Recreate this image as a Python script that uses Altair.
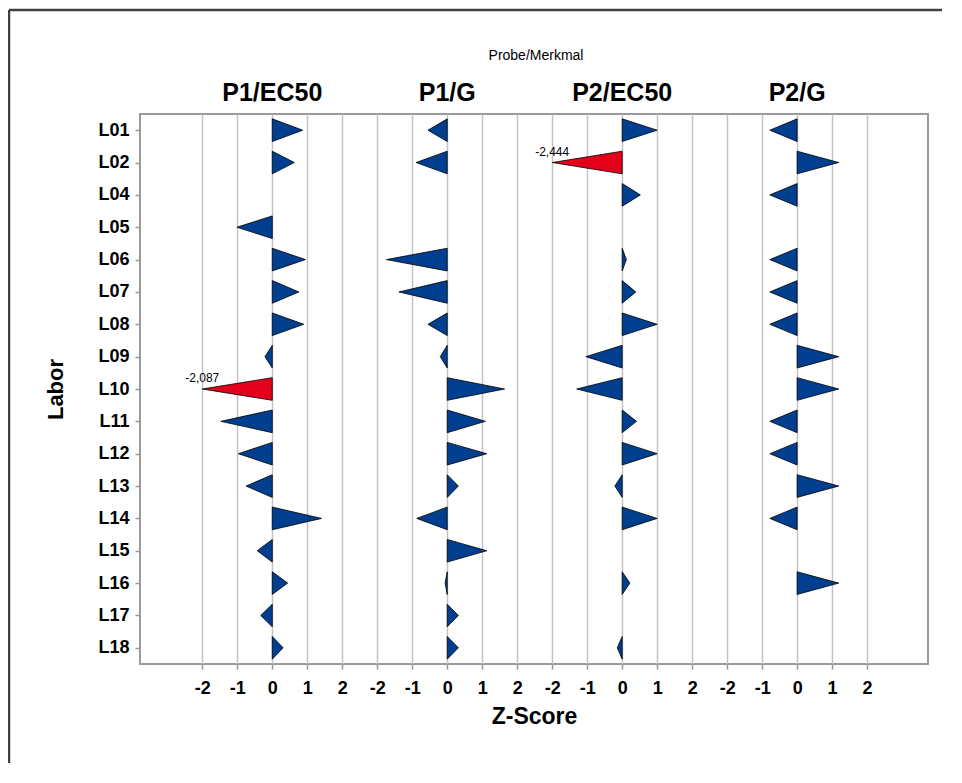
import altair as alt
import pandas as pd

# ---- data ----
labs = ["L01", "L02", "L04", "L05", "L06", "L07", "L08", "L09", "L10",
        "L11", "L12", "L13", "L14", "L15", "L16", "L17", "L18"]
panels = ["P1/EC50", "P1/G", "P2/EC50", "P2/G"]
p1_ec50 = [0.87, 0.63, None, -1.01, 0.95, 0.76, 0.90, -0.21, -2.087,
           -1.47, -0.97, -0.75, 1.41, -0.43, 0.44, -0.33, 0.31]
p1_g = [-0.55, -0.89, None, None, -1.74, -1.38, -0.55, -0.20, 1.64,
        1.09, 1.13, 0.32, -0.87, 1.13, -0.06, 0.32, 0.32]
p2_ec50 = [1.00, -2.444, 0.52, None, 0.12, 0.39, 1.00, -1.04, -1.30,
           0.41, 1.00, -0.21, 1.00, None, 0.22, None, -0.14]
p2_g = [-0.78, 1.19, -0.78, None, -0.78, -0.78, -0.78, 1.19, 1.19,
        -0.78, -0.78, 1.19, -0.78, None, 1.19, None, None]
series = [p1_ec50, p1_g, p2_ec50, p2_g]
x_ticks = list(range(-2, 18))
super_title = ["Probe/Merkmal"]

# ---- style ----
FONT = "Liberation Sans"
BLUE = "#003f8f"
RED = "#e3001b"
W, H = 788, 550
SPAN = 5          # each panel occupies 5 z-units on the shared axis
HALF = 0.35       # half height of a triangle (in row units)
CAP = 2.0         # values beyond +-2 are drawn at the limit and labelled
PAD_R = 14

poly_rows, lab_rows = [], []
for k, (pname, vals) in enumerate(zip(panels, series)):
    off = k * SPAN
    for i, (lab, v) in enumerate(zip(labs, vals)):
        if v is None:
            continue
        vc = max(-CAP, min(CAP, v))
        out = "out" if abs(v) > CAP else "in"
        key = f"{pname}-{lab}"
        for dy, xe in [(-HALF, 0.0), (0.0, vc), (HALF, 0.0)]:
            poly_rows.append({"key": key, "row": i + dy, "x0": off,
                              "x1": off + xe, "status": out})
        if abs(v) > CAP:
            lab_rows.append({"row": i, "xv": off + vc,
                             "txt": f"{v:.3f}".replace(".", ",")})
poly = pd.DataFrame(poly_rows)
outl = pd.DataFrame(lab_rows)
heads = pd.DataFrame({"panel": panels, "xc": [k * SPAN for k in range(len(panels))]})
rows = pd.DataFrame({"lab": labs})

xscale = alt.Scale(domain=[-3.78, 18.74], nice=False, zero=False)
yscale = alt.Scale(domain=[-0.5, len(labs) - 0.5], reverse=True, nice=False, zero=False)

xaxis = alt.Axis(values=x_ticks, labelExpr="'' + ((((datum.value + 2) % 5) + 5) % 5 - 2)",
                 labelOverlap=False, labelFlush=False,
                 grid=True, gridColor="#c4c4c4", gridWidth=1.5, domain=False,
                 tickColor="#999999", tickSize=5, tickWidth=1.5,
                 labelFont=FONT, labelFontSize=18, labelFontWeight="bold", labelColor="#000000",
                 labelPadding=10, title="Z-Score", titleFont=FONT, titleFontSize=23,
                 titleFontWeight="bold", titleColor="#000000", titleY=52,
                 titleBaseline="middle")
yaxis = alt.Axis(labelOverlap=False, grid=False, domain=False,
                 tickColor="#999999", tickSize=5, tickWidth=1.5,
                 labelFont=FONT, labelFontSize=18, labelFontWeight="bold", labelColor="#000000",
                 labelPadding=6, title="Labor", titleFont=FONT, titleFontSize=22,
                 titleFontWeight="bold", titleColor="#000000", titleX=-85, titleY=H / 2,
                 titleAngle=-90, titleAlign="center", titleBaseline="middle")

# invisible layer carrying the laboratory axis
axis_layer = alt.Chart(rows).mark_point(opacity=0).encode(
    y=alt.Y("lab:N", sort=labs, scale=alt.Scale(type="point", domain=labs, padding=0.5),
            axis=yaxis),
)

tri = alt.Chart(poly).mark_area(orient="horizontal", stroke="#000000", strokeWidth=0.8,
                                interpolate="linear").encode(
    y=alt.Y("row:Q", scale=yscale, axis=None),
    x=alt.X("x0:Q", scale=xscale, axis=xaxis),
    x2="x1:Q",
    detail="key:N",
    fill=alt.Fill("status:N", scale=alt.Scale(domain=["in", "out"], range=[BLUE, RED]), legend=None),
)

txt = alt.Chart(outl).mark_text(font=FONT, fontSize=12, dy=-11, color="#000000").encode(
    x=alt.X("xv:Q", scale=xscale), y=alt.Y("row:Q", scale=yscale, axis=None),
    text="txt:N")

hdr = alt.Chart(heads).mark_text(font=FONT, fontSize=25, fontWeight="bold", baseline="middle",
                                 color="#000000").encode(
    x=alt.X("xc:Q", scale=xscale), y=alt.value(-21), text="panel:N")

sup = alt.Chart(pd.DataFrame({"t": super_title})).mark_text(
    font=FONT, fontSize=14, baseline="middle", color="#000000").encode(
    x=alt.value(W / 2 + 2), y=alt.value(-58), text="t:N")

frame_src = pd.DataFrame({"f": [0]})
top_line = alt.Chart(frame_src).mark_rule(color="#404040", strokeWidth=2.5).encode(
    x=alt.value(-131), x2=alt.value(W + PAD_R), y=alt.value(-104))
left_line = alt.Chart(frame_src).mark_rule(color="#404040", strokeWidth=2.5).encode(
    x=alt.value(-131), y=alt.value(-104), y2=alt.value(H + 99))

chart = alt.layer(tri, axis_layer, txt, hdr, sup, top_line, left_line).resolve_scale(
    y="independent"
).properties(
    width=W, height=H,
    autosize=alt.AutoSizeParams(type="none"),
    padding={"left": 132, "top": 106, "right": PAD_R, "bottom": 100},
).configure(background="white",
            view=alt.ViewConfig(stroke="#9a9a9a", strokeWidth=2))

chart.save("out.html", embed_options={"renderer": "svg", "actions": False})
